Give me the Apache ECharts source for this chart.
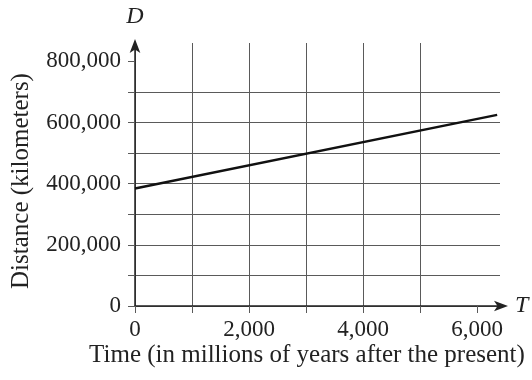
<!DOCTYPE html>
<html>
<head>
<meta charset="utf-8">
<script src="https://cdn.jsdelivr.net/npm/echarts@6/dist/echarts.min.js"></script>
<style>
  html, body { margin: 0; padding: 0; background: #fff; }
  #chart { width: 532px; height: 380px; }
</style>
</head>
<body>
<div id="chart"></div>
<script>
// --- data ---
const timeValues = [0, 6350];               // T, millions of years
const distanceValues = [384000, 625000];    // D, kilometers
const xTickValues = [0, 1000, 2000, 3000, 4000, 5000, 6000];
const xLabelValues = [0, 2000, 4000, 6000];
const yTickValues = [0, 100000, 200000, 300000, 400000, 500000, 600000, 700000, 800000];
const yLabelValues = [0, 200000, 400000, 600000, 800000];

const FONT = '"Liberation Serif", "DejaVu Serif", serif';
const GRID_COLOR = '#5a5a5a';
const TEXT_COLOR = '#222';

const withCommas = (v) => String(v).replace(/\B(?=(\d{3})+(?!\d))/g, ',');

const chart = echarts.init(document.getElementById('chart'), null, { renderer: 'canvas' });

chart.setOption({
  animation: false,
  // fixed plot box, no auto shrinking for names/labels
  grid: { left: 135, right: 32, top: 43, bottom: 74, containLabel: false, outerBoundsMode: 'none' },
  xAxis: {
    type: 'value',
    min: 0,
    max: 6400,
    interval: 1000,
    name: 'T',
    nameLocation: 'end',
    nameGap: 15,
    nameTextStyle: { fontFamily: FONT, fontStyle: 'italic', fontSize: 24, color: TEXT_COLOR },
    axisLine: {
      show: true, symbol: ['none', 'arrow'], symbolSize: [8, 14], symbolOffset: [0, 8],
      lineStyle: { color: TEXT_COLOR, width: 1.5 }
    },
    axisTick: { show: true, inside: false, length: 7, customValues: xTickValues, lineStyle: { color: GRID_COLOR } },
    axisLabel: {
      customValues: xLabelValues,
      margin: 12,
      fontFamily: FONT, fontSize: 23, color: TEXT_COLOR,
      formatter: (v) => withCommas(v)
    },
    splitLine: { show: true, showMaxLine: false, lineStyle: { width: 1, color: GRID_COLOR } }
  },
  yAxis: {
    type: 'value',
    min: 0,
    max: 860000,
    interval: 100000,
    name: 'D',
    nameLocation: 'end',
    nameGap: 14,
    nameTextStyle: { fontFamily: FONT, fontStyle: 'italic', fontSize: 24, color: TEXT_COLOR, align: 'center' },
    axisLine: {
      show: true, symbol: ['none', 'arrow'], symbolSize: [8, 14], symbolOffset: [0, 4],
      lineStyle: { color: TEXT_COLOR, width: 1.5 }
    },
    axisTick: { show: true, inside: false, length: 7, customValues: yTickValues, lineStyle: { color: GRID_COLOR } },
    axisLabel: {
      customValues: yLabelValues,
      margin: 14,
      fontFamily: FONT, fontSize: 23, color: TEXT_COLOR,
      formatter: (v) => withCommas(v)
    },
    splitLine: { show: true, showMaxLine: false, lineStyle: { width: 1, color: GRID_COLOR } }
  },
  series: [
    {
      type: 'line',
      data: timeValues.map((t, i) => [t, distanceValues[i]]),
      showSymbol: false,
      symbol: 'none',
      lineStyle: { color: '#111', width: 2.5 },
      z: 5
    }
  ],
  // axis titles
  graphic: [
    {
      type: 'text',
      x: 21,
      y: 181,
      rotation: Math.PI / 2,
      style: { text: 'Distance (kilometers)', font: '25px ' + FONT, fill: TEXT_COLOR, align: 'center', verticalAlign: 'middle' }
    },
    {
      type: 'text',
      x: 307,
      y: 355,
      style: { text: 'Time (in millions of years after the present)', font: '25px ' + FONT, fill: TEXT_COLOR, align: 'center', verticalAlign: 'middle' }
    }
  ]
});
</script>
</body>
</html>
